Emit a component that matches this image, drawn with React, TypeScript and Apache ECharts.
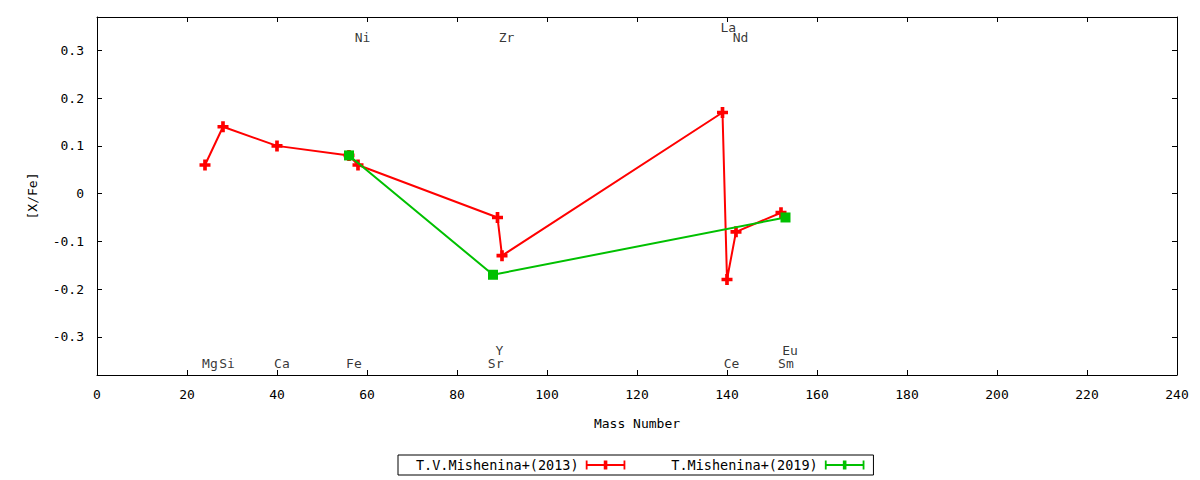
import React, { useEffect, useRef } from "react";
import * as echarts from "echarts";

const masses2013 = [24, 28, 40, 56, 58, 89, 90, 139, 140, 142, 152];
const values2013 = [0.06, 0.14, 0.1, 0.08, 0.06, -0.05, -0.13, 0.17, -0.18, -0.08, -0.04];
const masses2019 = [56, 88, 153];
const values2019 = [0.08, -0.17, -0.05];

const elementNames = ["Mg", "Si", "Ca", "Fe", "Ni", "Sr", "Y", "Zr", "La", "Ce", "Nd", "Sm", "Eu"];
const labelX = [25.1, 28.9, 41.1, 57.1, 59, 88.6, 89.4, 91, 140.3, 141, 143, 153.1, 154];
const labelY = [-0.356, -0.356, -0.356, -0.356, 0.327, -0.356, -0.328, 0.327, 0.349, -0.356, 0.327, -0.356, -0.328];

const yTickValues = [-0.3, -0.2, -0.1, 0, 0.1, 0.2, 0.3];
const seriesNames = ["T.V.Mishenina+(2013)", "T.Mishenina+(2019)"];

const FONT = "DejaVu Sans Mono";
const RED = "#ff0000";
const GREEN = "#00c000";
const PLUS = "path://M4,0H8V4H12V8H8V12H4V8H0V4H4Z";
const ICON = "path://M0,0H2V10H0Z M0,4H44V6H0Z M42,0H44V10H42Z M20,0H24V10H20Z";

export default function App() {
  const ref = useRef<HTMLDivElement>(null);
  useEffect(() => {
    if (!ref.current) return;
    const chart = echarts.init(ref.current, null, { renderer: "svg" });
    const textStyle = { fontFamily: FONT, fontSize: 13, color: "#000" };
    const axisLine = { show: true, onZero: false, lineStyle: { color: "#000", width: 1 } };
    const tick = { show: true, inside: true, length: 5, lineStyle: { color: "#000" } };
    chart.setOption({
      animation: false,
      backgroundColor: "#fff",
      textStyle,
      grid: { left: 97, right: 23, top: 17, bottom: 105, containLabel: false },
      legend: {
        left: 398,
        top: 455,
        orient: "horizontal",
        align: "right",
        borderColor: "#000",
        borderWidth: 1,
        borderRadius: 0,
        padding: [3, 9, 3, 18],
        itemGap: 46,
        itemWidth: 44,
        itemHeight: 9,
        textStyle: { ...textStyle, fontSize: 13.5 },
        data: [
          { name: seriesNames[0], icon: ICON },
          { name: seriesNames[1], icon: ICON },
        ],
      },
      xAxis: [
        {
          type: "value",
          min: 0,
          max: 240,
          interval: 20,
          position: "bottom",
          name: "Mass Number",
          nameLocation: "middle",
          nameGap: 42,
          nameTextStyle: textStyle,
          axisLine,
          axisTick: tick,
          axisLabel: { ...textStyle, margin: 13 },
          splitLine: { show: false },
        },
        {
          type: "value",
          min: 0,
          max: 240,
          interval: 20,
          position: "top",
          axisLine,
          axisTick: tick,
          axisLabel: { show: false },
          splitLine: { show: false },
        },
      ],
      yAxis: [
        {
          type: "value",
          min: -0.38,
          max: 0.37,
          position: "left",
          name: "[X/Fe]",
          nameLocation: "middle",
          nameGap: 58,
          nameRotate: 90,
          nameTextStyle: textStyle,
          axisLine,
          axisTick: { ...tick, customValues: yTickValues },
          axisLabel: { ...textStyle, margin: 13, customValues: yTickValues },
          splitLine: { show: false },
        },
        {
          type: "value",
          min: -0.38,
          max: 0.37,
          position: "right",
          axisLine,
          axisTick: { ...tick, customValues: yTickValues },
          axisLabel: { show: false, customValues: yTickValues },
          splitLine: { show: false },
        },
      ],
      series: [
        {
          name: seriesNames[0],
          type: "line",
          data: masses2013.map((m, i) => [m, values2013[i]]),
          symbol: PLUS,
          symbolSize: 11,
          lineStyle: { color: RED, width: 2 },
          itemStyle: { color: RED },
          z: 3,
        },
        {
          name: seriesNames[1],
          type: "line",
          data: masses2019.map((m, i) => [m, values2019[i]]),
          symbol: "rect",
          symbolSize: 10,
          lineStyle: { color: GREEN, width: 2 },
          itemStyle: { color: GREEN },
          z: 4,
        },
        {
          name: "labels",
          type: "scatter",
          silent: true,
          data: labelX.map((x, i) => [x, labelY[i]]),
          symbolSize: 1,
          itemStyle: { color: "transparent" },
          label: {
            show: true,
            position: "inside",
            formatter: (p: any) => elementNames[p.dataIndex],
            ...textStyle,
          },
          z: 5,
        },
      ],
    });
    return () => chart.dispose();
  }, []);
  return (
    <div
      ref={ref}
      style={{ position: "fixed", left: 0, top: 0, width: 1200, height: 480 }}
    />
  );
}
